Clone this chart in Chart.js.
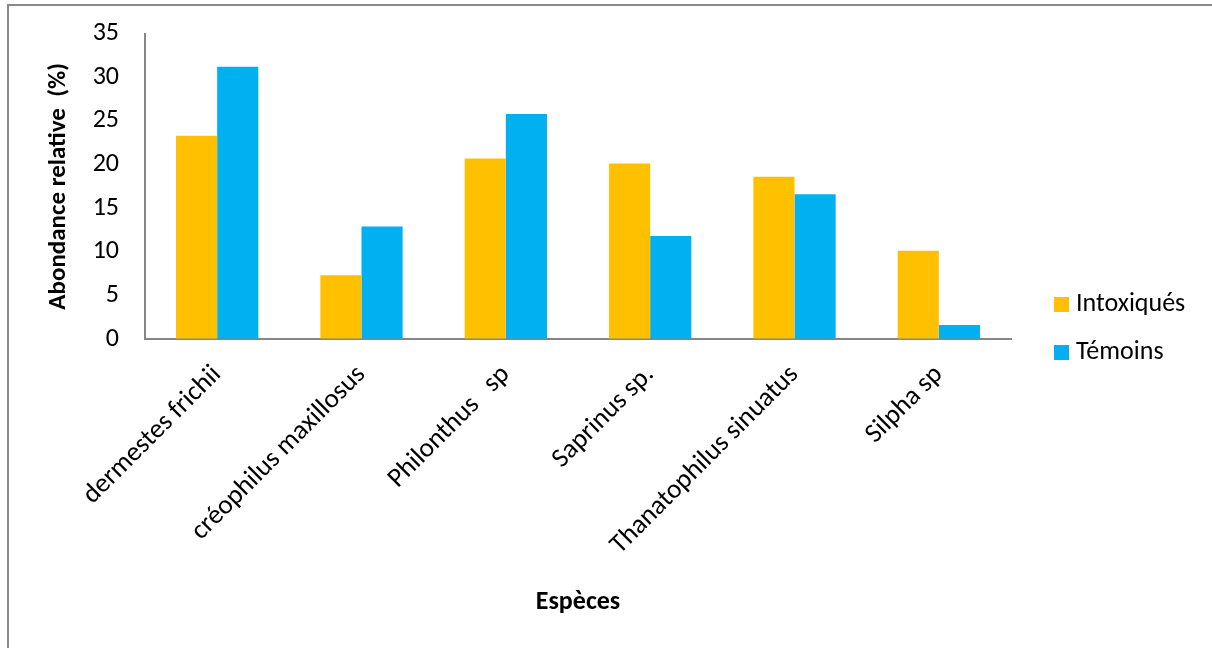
<!DOCTYPE html>
<html>
<head>
<meta charset="utf-8">
<script src="https://cdn.jsdelivr.net/npm/chart.js"></script>
<style>
  html, body { margin: 0; padding: 0; background: #fff; overflow: hidden; }
  #wrap { position: relative; width: 1212px; height: 648px; }
  #frame { position: absolute; left: 7px; top: 4px; width: 1400px; height: 900px;
           border-left: 2px solid #898989; border-top: 2px solid #898989; }
  canvas { position: absolute; left: 0; top: 0; }
</style>
</head>
<body>
<div id="wrap">
  <div id="frame"></div>
  <canvas id="chart" width="1212" height="648"></canvas>
</div>
<script>
const especes = ['dermestes frichii', 'créophilus maxillosus', 'Philonthus   sp', 'Saprinus sp.', 'Thanatophilus sinuatus', 'Silpha sp'];
const intoxiques = [23.3, 7.3, 20.7, 20.1, 18.6, 10.1];
const temoins = [31.2, 12.9, 25.8, 11.8, 16.6, 1.6];
const yMin = 0, yMax = 35, yStep = 5;

const FONT = 'Carlito, Calibri, Lato, sans-serif';
const AXIS = '#868686';

// legend drawn at the right, next to the bottom of the plot
const sideLegend = {
    id: 'sideLegend',
    afterDraw(chart) {
        const ctx = chart.ctx;
        ctx.save();
        ctx.font = '26px ' + FONT;
        ctx.textBaseline = 'middle';
        chart.data.datasets.forEach((ds, i) => {
            const y = 304 + i * 48;
            ctx.fillStyle = ds.backgroundColor;
            ctx.fillRect(1054, y - 7, 15, 15);
            ctx.fillStyle = '#000';
            ctx.fillText(ds.label, 1076, y);
        });
        ctx.restore();
    }
};

document.addEventListener('DOMContentLoaded', () => {
    const ctx = document.getElementById('chart').getContext('2d');
    new Chart(ctx, {
        type: 'bar',
        data: {
            labels: especes,
            datasets: [
                { label: 'Intoxiqués', data: intoxiques, backgroundColor: '#FFC000' },
                { label: 'Témoins', data: temoins, backgroundColor: '#00B0F0' }
            ]
        },
        options: {
            responsive: false,
            animation: false,
            layout: { padding: { left: 0, top: 10, right: 201, bottom: 0 } },
            datasets: { bar: { categoryPercentage: 0.57, barPercentage: 1.0 } },
            plugins: { legend: { display: false }, tooltip: { enabled: false } },
            scales: {
                x: {
                    grid: { display: false, drawTicks: false },
                    border: { color: AXIS, width: 2 },
                    ticks: {
                        color: '#000', font: { family: FONT, size: 27 },
                        minRotation: 45, maxRotation: 45, padding: 20, autoSkip: false
                    },
                    title: {
                        display: true, text: 'Espèces', color: '#000',
                        font: { family: FONT, size: 26, weight: 'bold' },
                        padding: { top: 0, bottom: 30 }
                    },
                    afterFit: s => { s.height = 309; }
                },
                y: {
                    min: yMin, max: yMax,
                    grid: {
                        display: true, drawOnChartArea: false, drawTicks: true,
                        tickLength: 8, tickColor: 'rgba(0,0,0,0)', color: 'rgba(0,0,0,0)'
                    },
                    border: { color: AXIS, width: 2 },
                    ticks: {
                        stepSize: yStep, color: '#000',
                        font: { family: FONT, size: 26 }, padding: 18
                    },
                    title: {
                        display: true, text: 'Abondance relative  (%)', color: '#000',
                        font: { family: FONT, size: 25, weight: 'bold' },
                        padding: { top: 44, bottom: 0 }
                    },
                    afterFit: s => { s.width = 145; }
                }
            }
        },
        plugins: [sideLegend]
    });
});
</script>
</body>
</html>
